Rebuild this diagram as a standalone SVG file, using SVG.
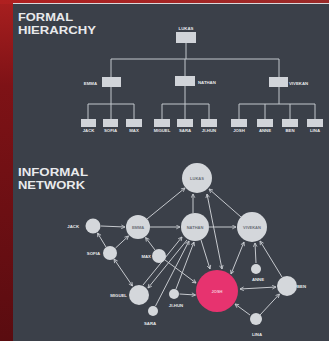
<svg xmlns="http://www.w3.org/2000/svg" width="329" height="341" viewBox="0 0 329 341">
<defs>
<linearGradient id="bg" x1="0" y1="0" x2="0" y2="1">
<stop offset="0" stop-color="#a81f1f"/>
<stop offset="0.25" stop-color="#7e1216"/>
<stop offset="1" stop-color="#5a0c10"/>
</linearGradient>
<linearGradient id="topband" x1="0" y1="0" x2="1" y2="0">
<stop offset="0" stop-color="#b02020"/>
<stop offset="1" stop-color="#9a2a28"/>
</linearGradient>
<marker id="ah" viewBox="0 0 8 8" refX="7" refY="4" markerWidth="5" markerHeight="5" markerUnits="userSpaceOnUse" orient="auto-start-reverse">
<path d="M1,1 L7,4 L1,7" fill="none" stroke="#c9ccd1" stroke-width="1.3"/>
</marker>
<style>
.title{font-family:"Liberation Sans",Arial,sans-serif;font-weight:bold;font-size:11.5px;fill:#e9eaec}
.lbl{font-family:"Liberation Sans",Arial,sans-serif;font-weight:bold;font-size:4.3px;fill:#e6e7e9}
.in{font-family:"Liberation Sans",Arial,sans-serif;font-weight:bold;font-size:4px;fill:#6b7078;text-anchor:middle}
.box{fill:#d1d4d9}
.tree{stroke:#c3c7cd;stroke-width:1;fill:none}
.edge{stroke:#c6c9ce;stroke-width:1;fill:none;marker-end:url(#ah)}
.bi{marker-start:url(#ah)}
.node{fill:#d4d7db}
</style>
</defs>
<rect x="0" y="0" width="329" height="341" fill="url(#bg)"/>
<rect x="0" y="0" width="329" height="4" fill="url(#topband)"/>
<rect x="13" y="3" width="316" height="1" fill="#d9d9dc"/>
<rect x="13" y="4" width="316" height="337" fill="#3b4049"/>

<text class="title" x="18" y="21" textLength="55" lengthAdjust="spacingAndGlyphs">FORMAL</text>
<text class="title" x="18" y="34" textLength="78" lengthAdjust="spacingAndGlyphs">HIERARCHY</text>
<text class="title" x="18" y="176" textLength="70" lengthAdjust="spacingAndGlyphs" style="font-size:11px">INFORMAL</text>
<text class="title" x="18" y="188.5" textLength="67" lengthAdjust="spacingAndGlyphs" style="font-size:11px">NETWORK</text>

<g id="tree-lines">
<path class="tree" d="M186,43 V59 M111,59 H279 M111,59 V77 M185,59 V76 M279,59 V77"/>
<path class="tree" d="M111,87 V104 M88,104 H134 M88,104 V119 M111,104 V119 M134,104 V119"/>
<path class="tree" d="M185,86 V104 M162,104 H209 M162,104 V119 M185,104 V119 M209,104 V119"/>
<path class="tree" d="M279,87 V104 M239,104 H315 M239,104 V119 M265,104 V119 M290,104 V119 M315,104 V119"/>
</g>

<g id="h-lukas"><rect class="box" x="176" y="32" width="20" height="11"/><text class="lbl" x="186" y="29.5" text-anchor="middle">LUKAS</text></g>
<g id="h-emma"><rect class="box" x="102" y="77" width="19" height="10"/><text class="lbl" x="97" y="84.5" text-anchor="end">EMMA</text></g>
<g id="h-nathan"><rect class="box" x="175" y="76" width="20" height="10"/><text class="lbl" x="198" y="83.5">NATHAN</text></g>
<g id="h-vivekan"><rect class="box" x="269" y="77" width="19" height="10"/><text class="lbl" x="289" y="84.5">VIVEKAN</text></g>
<g id="h-jack"><rect class="box" x="81" y="119" width="15" height="8"/><text class="lbl" x="88.5" y="132" text-anchor="middle">JACK</text></g>
<g id="h-sofia"><rect class="box" x="103" y="119" width="15" height="8"/><text class="lbl" x="110.5" y="132" text-anchor="middle">SOFIA</text></g>
<g id="h-max"><rect class="box" x="126" y="119" width="16" height="8"/><text class="lbl" x="134" y="132" text-anchor="middle">MAX</text></g>
<g id="h-miguel"><rect class="box" x="154" y="119" width="16" height="8"/><text class="lbl" x="162" y="132" text-anchor="middle">MIGUEL</text></g>
<g id="h-sara"><rect class="box" x="177" y="119" width="16" height="8"/><text class="lbl" x="185" y="132" text-anchor="middle">SARA</text></g>
<g id="h-jihun"><rect class="box" x="201" y="119" width="16" height="8"/><text class="lbl" x="209" y="132" text-anchor="middle">JI-HUN</text></g>
<g id="h-josh"><rect class="box" x="231" y="119" width="16" height="8"/><text class="lbl" x="239" y="132" text-anchor="middle">JOSH</text></g>
<g id="h-anne"><rect class="box" x="257" y="119" width="16" height="8"/><text class="lbl" x="265" y="132" text-anchor="middle">ANNE</text></g>
<g id="h-ben"><rect class="box" x="282" y="119" width="16" height="8"/><text class="lbl" x="290" y="132" text-anchor="middle">BEN</text></g>
<g id="h-lina"><rect class="box" x="307" y="119" width="16" height="8"/><text class="lbl" x="315" y="132" text-anchor="middle">LINA</text></g>

<g id="connectors">
<line class="edge" x1="101" y1="226" x2="125" y2="227"/>
<line class="edge" x1="150" y1="227" x2="180" y2="227"/>
<line class="edge" x1="209" y1="227" x2="236" y2="227"/>
<line class="edge" x1="147" y1="219" x2="185" y2="188"/>
<line class="edge" x1="193" y1="213" x2="193" y2="194"/>
<line class="edge" x1="241" y1="217" x2="209" y2="189"/>
<line class="edge bi" x1="207" y1="194" x2="222" y2="269"/>
<line class="edge" x1="201" y1="240" x2="210" y2="269"/>
<line class="edge bi" x1="231" y1="274" x2="244" y2="242"/>
<line class="edge" x1="256" y1="263" x2="255" y2="243"/>
<line class="edge" x1="282" y1="277" x2="260" y2="241"/>
<line class="edge bi" x1="240" y1="289" x2="276" y2="287"/>
<line class="edge" x1="260" y1="315" x2="279.5" y2="294"/>
<line class="edge" x1="250" y1="315" x2="235" y2="304"/>
<line class="edge" x1="106" y1="247" x2="97.5" y2="233"/>
<line class="edge" x1="115.5" y1="248" x2="128.5" y2="236"/>
<line class="edge bi" x1="114" y1="259" x2="132.5" y2="286"/>
<line class="edge" x1="155" y1="250" x2="145.6" y2="237.5"/>
<line class="edge" x1="165" y1="260" x2="196" y2="283"/>
<line class="edge" x1="143" y1="285" x2="182" y2="237"/>
<line class="edge" x1="187" y1="240" x2="148" y2="288"/>
<line class="edge" x1="155.5" y1="306" x2="189" y2="241"/>
<line class="edge" x1="176" y1="289" x2="194" y2="242"/>
<line class="edge" x1="179.5" y1="294" x2="195.5" y2="295"/>
</g>

<g id="n-lukas"><circle class="node" cx="197" cy="178" r="15"/><text class="in" x="197" y="179.5">LUKAS</text></g>
<g id="n-emma"><circle class="node" cx="138" cy="227" r="12"/><text class="in" x="138" y="228.5">EMMA</text></g>
<g id="n-nathan"><circle class="node" cx="195" cy="227" r="14"/><text class="in" x="195" y="228.5">NATHAN</text></g>
<g id="n-vivekan"><circle class="node" cx="252" cy="227" r="15"/><text class="in" x="252" y="228.5">VIVEKAN</text></g>
<g id="n-jack"><circle class="node" cx="93" cy="226" r="7.5"/><text class="lbl" x="79" y="227.5" text-anchor="end">JACK</text></g>
<g id="n-sofia"><circle class="node" cx="110" cy="253" r="7"/><text class="lbl" x="100" y="255" text-anchor="end">SOFIA</text></g>
<g id="n-max"><circle class="node" cx="159" cy="256" r="7"/><text class="lbl" x="151" y="258" text-anchor="end">MAX</text></g>
<g id="n-miguel"><circle class="node" cx="139" cy="295" r="10"/><text class="lbl" x="127" y="297" text-anchor="end">MIGUEL</text></g>
<g id="n-sara"><circle class="node" cx="153" cy="311" r="5"/><text class="lbl" x="150" y="325" text-anchor="middle">SARA</text></g>
<g id="n-jihun"><circle class="node" cx="174" cy="294" r="5"/><text class="lbl" x="176" y="307" text-anchor="middle">JI-HUN</text></g>
<g id="n-josh"><circle cx="217" cy="291" r="21" fill="#e7336f"/><text class="in" x="217" y="292.5" style="fill:#f6d0dc">JOSH</text></g>
<g id="n-anne"><circle class="node" cx="256" cy="269" r="5"/><text class="lbl" x="258" y="280.5" text-anchor="middle">ANNE</text></g>
<g id="n-ben"><circle class="node" cx="287" cy="286" r="10"/><text class="lbl" x="297" y="288">BEN</text></g>
<g id="n-lina"><circle class="node" cx="256" cy="319" r="6"/><text class="lbl" x="257" y="336" text-anchor="middle">LINA</text></g>
</svg>
